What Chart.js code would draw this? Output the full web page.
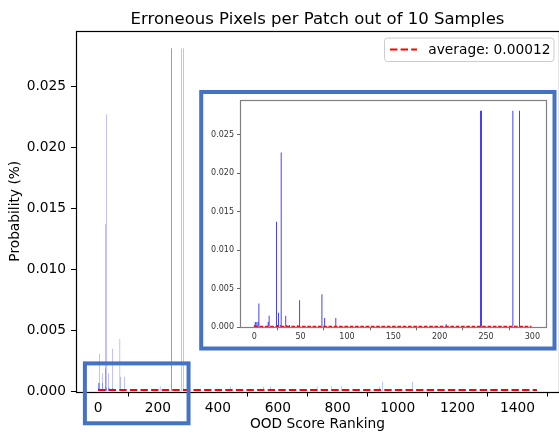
<!DOCTYPE html>
<html><head><meta charset="utf-8">
<script src="https://cdn.jsdelivr.net/npm/chart.js@4.4.1/dist/chart.umd.min.js"></script>
<style>
html,body{margin:0;padding:0;background:#fff;}
#wrap{position:relative;width:559px;height:433px;overflow:hidden;background:#fff;}
#main{position:absolute;left:0;top:0;}
#inset{position:absolute;left:199px;top:90px;}
</style></head><body>
<div id="wrap"><canvas id="main" width="559" height="433"></canvas><canvas id="inset" width="358" height="261"></canvas></div>
<script>
const titleText = 'Erroneous Pixels per Patch out of 10 Samples';
const xLabel = 'OOD Score Ranking';
const yLabel = 'Probability (%)';
const nSamples = 1466;
const insetCount = 300;
const barIndex = [0, 1, 2, 4, 5, 15, 16, 24, 25, 26, 28, 29, 34, 35, 38, 47, 49, 73, 76, 88, 207, 244, 245, 279, 286, 441, 553, 575, 731, 779, 813, 939, 949, 1049];
const barValue = [0.0003, 0.0007, 0.0007, 0.0007, 0.0031, 0.0007, 0.0015, 0.0137, 0.0003, 0.0019, 0.0003, 0.0227, 0.0015, 0.0003, 0.0003, 0.0003, 0.0035, 0.0043, 0.0012, 0.0012, 0.0004, 0.0281, 0.0281, 0.0281, 0.0281, 0.0004, 0.0004, 0.0004, 0.0004, 0.0004, 0.0004, 0.0004, 0.0008, 0.0008];
const averageValue = 0.00012;
const averageLabel = 'average: 0.00012';
const xTicksMain = [0, 200, 400, 600, 800, 1000, 1200, 1400];
const xTicksInset = [0, 50, 100, 150, 200, 250, 300];
const yTicks = [0, 0.005, 0.010, 0.015, 0.020, 0.025];

const FONT = '"DejaVu Sans", sans-serif';
const BOX_BLUE = '#4472C4';

// matplotlib-like auto margins
function xLimits(n) { const lo = -0.4, hi = n - 1 + 0.4, m = 0.05 * (hi - lo); return [lo - m, hi + m]; }
const yMax = Math.max(...barValue) * 1.05;
const [mainXMin, mainXMax] = xLimits(nSamples);
const [insXMin, insXMax] = xLimits(insetCount);

const mainBars = barIndex.map((x, i) => ({ x, y: barValue[i] }));
const insetBars = mainBars.filter(p => p.x < insetCount);

// zoom box in data units (main axes)
const zoomBox = { x0: -44, x1: 302, y0: -0.0026, y1: 0.0023 };

const mainDeco = {
  id: 'mainDeco',
  afterDraw(chart) {
    const { ctx, chartArea: a, scales } = chart;
    ctx.save();
    ctx.strokeStyle = '#000'; ctx.lineWidth = 1.2;
    ctx.strokeRect(Math.round(a.left) + 0.5, Math.round(a.top) + 0.5, Math.round(a.right - a.left), Math.round(a.bottom - a.top));
    ctx.fillStyle = '#000';
    ctx.font = '16.5px ' + FONT;
    ctx.textAlign = 'center'; ctx.textBaseline = 'alphabetic';
    ctx.fillText(titleText, (a.left + a.right) / 2, 23.5);
    const lx = 384.5, ly = 38, lw = 169.5, lh = 23.5;
    ctx.beginPath();
    ctx.roundRect(lx, ly, lw, lh, 3);
    ctx.fillStyle = 'rgba(255,255,255,0.8)'; ctx.fill();
    ctx.strokeStyle = '#cccccc'; ctx.lineWidth = 1; ctx.stroke();
    ctx.beginPath();
    ctx.setLineDash([7.4, 3.2]);
    ctx.strokeStyle = '#ff0000'; ctx.lineWidth = 2;
    ctx.moveTo(390, 49.5); ctx.lineTo(417, 49.5); ctx.stroke();
    ctx.setLineDash([]);
    ctx.fillStyle = '#000'; ctx.font = '13.75px ' + FONT;
    ctx.textAlign = 'left';
    ctx.fillText(chart.data.datasets[1].label, 428.3, 54);
    const x = scales.x, y = scales.y;
    const px0 = x.getPixelForValue(zoomBox.x0), px1 = x.getPixelForValue(zoomBox.x1);
    const py0 = y.getPixelForValue(zoomBox.y0), py1 = y.getPixelForValue(zoomBox.y1);
    ctx.strokeStyle = BOX_BLUE; ctx.lineWidth = 4;
    ctx.strokeRect(px0, py1, px1 - px0, py0 - py1);
    ctx.restore();
  }
};

new Chart(document.getElementById('main'), {
  type: 'bar',
  data: {
    datasets: [
      { type: 'bar', label: 'bars', data: mainBars, backgroundColor: '#0000ff', borderWidth: 0,
        barPercentage: 0.8, categoryPercentage: 1, inflateAmount: 0, order: 1 },
      { type: 'line', label: averageLabel, data: [{ x: 0, y: averageValue }, { x: nSamples - 1, y: averageValue }],
        borderColor: '#ff0000', borderWidth: 2, borderDash: [7.4, 3.2], pointRadius: 0, fill: false, order: 0 }
    ]
  },
  options: {
    responsive: false, animation: false, devicePixelRatio: 1,
    layout: { padding: { top: 31, right: 0, left: 0, bottom: 0 } },
    plugins: { legend: { display: false }, tooltip: { enabled: false }, title: { display: false } },
    scales: {
      x: {
        type: 'linear', min: mainXMin, max: mainXMax, offset: false,
        afterBuildTicks: s => { s.ticks = xTicksMain.map(v => ({ value: v })); },
        afterFit: s => { s.height = 41.5; },
        grid: { drawOnChartArea: false, drawTicks: true, tickLength: 5, tickColor: '#000', tickWidth: 1 },
        border: { display: false },
        ticks: { color: '#000', font: { family: FONT, size: 13.75 }, padding: 3.5, maxRotation: 0, autoSkip: false, callback: v => String(v) },
        title: { display: true, text: xLabel, color: '#000', font: { family: FONT, size: 13.75 }, padding: { top: 0, bottom: 0 } }
      },
      y: {
        type: 'linear', min: 0, max: yMax,
        afterBuildTicks: s => { s.ticks = yTicks.map(v => ({ value: v })); },
        afterFit: s => { s.width = 76; },
        grid: { drawOnChartArea: false, drawTicks: true, tickLength: 5, tickColor: '#000', tickWidth: 1 },
        border: { display: false },
        ticks: { color: '#000', font: { family: FONT, size: 13.75 }, padding: 5, autoSkip: false, callback: v => v.toFixed(3) },
        title: { display: true, text: yLabel, color: '#000', font: { family: FONT, size: 13.75 }, padding: { top: 7, bottom: 0 } }
      }
    }
  },
  plugins: [mainDeco]
});

const insetDeco = {
  id: 'insetDeco',
  beforeDraw(chart) {
    const { ctx } = chart;
    ctx.save();
    ctx.fillStyle = '#fff';
    ctx.fillRect(2.2, 2, 353.3, 256.5);
    ctx.restore();
  },
  afterDraw(chart) {
    const { ctx, chartArea: a } = chart;
    ctx.save();
    ctx.strokeStyle = '#808080'; ctx.lineWidth = 1.2;
    ctx.strokeRect(Math.round(a.left) + 0.5, Math.round(a.top) + 0.5, Math.round(a.right - a.left), Math.round(a.bottom - a.top));
    ctx.strokeStyle = BOX_BLUE; ctx.lineWidth = 4;
    ctx.strokeRect(2.2, 2, 353.3, 256.5);
    ctx.restore();
  }
};

new Chart(document.getElementById('inset'), {
  type: 'bar',
  data: {
    datasets: [
      { type: 'bar', label: 'bars', data: insetBars, backgroundColor: '#0000ff', borderWidth: 0,
        barPercentage: 0.8, categoryPercentage: 1, inflateAmount: 0, order: 1 },
      { type: 'line', label: averageLabel, data: [{ x: 0, y: averageValue }, { x: insetCount - 1, y: averageValue }],
        borderColor: '#ff0000', borderWidth: 1.5, borderDash: [3.7, 1.6], pointRadius: 0, fill: false, order: 0 }
    ]
  },
  options: {
    responsive: false, animation: false, devicePixelRatio: 1,
    layout: { padding: { top: 10, right: 11.3, left: 0, bottom: 0 } },
    plugins: { legend: { display: false }, tooltip: { enabled: false }, title: { display: false } },
    scales: {
      x: {
        type: 'linear', min: insXMin, max: insXMax, offset: false,
        afterBuildTicks: s => { s.ticks = xTicksInset.map(v => ({ value: v })); },
        afterFit: s => { s.height = 23.7; },
        grid: { drawOnChartArea: false, drawTicks: true, tickLength: 3, tickColor: '#666', tickWidth: 1 },
        border: { display: false },
        ticks: { color: '#333', font: { family: FONT, size: 8 }, padding: 2, maxRotation: 0, autoSkip: false, callback: v => String(v) }
      },
      y: {
        type: 'linear', min: 0, max: yMax,
        afterBuildTicks: s => { s.ticks = yTicks.map(v => ({ value: v })); },
        afterFit: s => { s.width = 41; },
        grid: { drawOnChartArea: false, drawTicks: true, tickLength: 3, tickColor: '#666', tickWidth: 1 },
        border: { display: false },
        ticks: { color: '#333', font: { family: FONT, size: 8 }, padding: 3, autoSkip: false, callback: v => v.toFixed(3) }
      }
    }
  },
  plugins: [insetDeco]
});
</script>
</body></html>
